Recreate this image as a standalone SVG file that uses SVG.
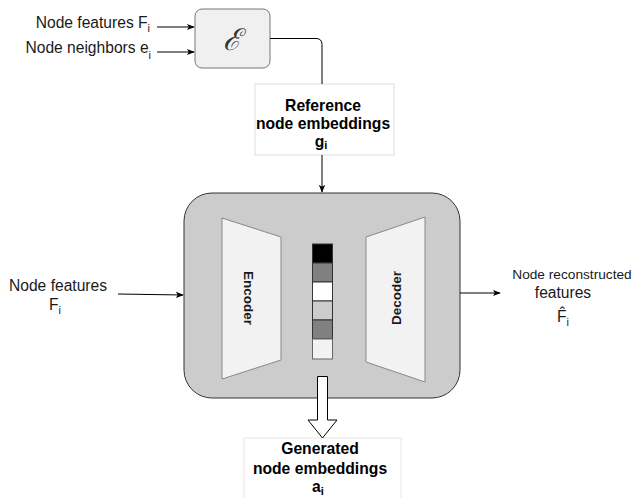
<svg xmlns="http://www.w3.org/2000/svg" width="632" height="498" viewBox="0 0 632 498">
  <style>
    .lbl { font-family: "Liberation Sans", Arial, sans-serif; fill: #1a1a1a; }
    .bold { font-weight: bold; fill: #000; }
    .edge { fill: none; stroke: #000; stroke-width: 1; }
    .sub { font-size: 70%; }
  </style>
  <defs>
    <marker id="arrow" viewBox="0 0 10 10" refX="9" refY="5" markerWidth="8" markerHeight="8" markerUnits="userSpaceOnUse" orient="auto">
      <path d="M0,1 L10,5 L0,9 L2.5,5 Z" fill="#000"/>
    </marker>
  </defs>
  <rect width="632" height="498" fill="#fff"/>

  <!-- input labels of the encoder block -->
  <g id="input-features-top">
    <text class="lbl" x="150" y="28" font-size="15.6" text-anchor="end">Node features F<tspan class="sub" dy="4">i</tspan></text>
  </g>
  <g id="input-neighbors">
    <text class="lbl" x="151" y="53" font-size="15.6" text-anchor="end">Node neighbors e<tspan class="sub" dy="6">i</tspan></text>
  </g>

  <!-- graph encoder block -->
  <g id="graph-encoder">
    <rect x="195" y="9" width="75" height="59" rx="7" fill="#f0f0f0" stroke="#777"/>
    <text x="232" y="50" font-family="DejaVu Serif, serif" font-style="italic" font-size="30" fill="#333" text-anchor="middle">ℰ</text>
  </g>

  <!-- reference embeddings -->
  <g id="reference-embeddings">
    <rect x="255" y="84" width="139" height="71" fill="#fff" stroke="#ddd"/>
    <text class="lbl bold" x="323" y="111" font-size="15.7" text-anchor="middle">Reference</text>
    <text class="lbl bold" x="323" y="129" font-size="15.7" text-anchor="middle">node embeddings</text>
    <text class="lbl bold" x="321" y="147" font-size="15.7" text-anchor="middle">g<tspan class="sub" dy="2">i</tspan></text>
  </g>

  <!-- autoencoder -->
  <g id="autoencoder">
    <rect x="184" y="193" width="276" height="205" rx="28" fill="#cccccc" stroke="#333"/>
  </g>
  <g id="encoder">
    <polygon points="222,218 281,237 281,360 222,379" fill="#f2f2f2" stroke="#888"/>
    <text class="lbl" transform="translate(244,298) rotate(90)" font-size="13.5" font-weight="bold" fill="#333" text-anchor="middle">Encoder</text>
  </g>
  <g id="decoder">
    <polygon points="366,237 425,217 425,382 366,362" fill="#f2f2f2" stroke="#888"/>
    <text class="lbl" transform="translate(401,298) rotate(-90)" font-size="13.5" font-weight="bold" fill="#333" text-anchor="middle">Decoder</text>
  </g>
  <g id="latent" stroke="#333" stroke-width="1">
    <rect x="312.5" y="244" width="20" height="19" fill="#000"/>
    <rect x="312.5" y="263" width="20" height="19" fill="#808080"/>
    <rect x="312.5" y="282" width="20" height="19" fill="#fff"/>
    <rect x="312.5" y="301" width="20" height="19" fill="#cccccc"/>
    <rect x="312.5" y="320" width="20" height="19" fill="#808080"/>
    <rect x="312.5" y="339" width="20" height="20" fill="#f2f2f2" stroke="#666"/>
  </g>

  <!-- side labels -->
  <g id="input-features">
    <text class="lbl" x="58" y="291" font-size="15.6" text-anchor="middle">Node features</text>
    <text class="lbl" x="55" y="310" font-size="15.6" text-anchor="middle">F<tspan class="sub" dy="4">i</tspan></text>
  </g>
  <g id="reconstructed-features">
    <text class="lbl" x="572" y="279" font-size="13.7" text-anchor="middle">Node reconstructed</text>
    <text class="lbl" x="563" y="298" font-size="15.6" text-anchor="middle">features</text>
    <text class="lbl" x="563" y="322" font-size="15.6" text-anchor="middle">F&#x302;<tspan class="sub" dy="4">i</tspan></text>
  </g>

  <!-- generated embeddings -->
  <g id="generated-embeddings">
    <rect x="244" y="438" width="157" height="62" fill="#fff" stroke="#e6e6e6"/>
    <text class="lbl bold" x="320" y="454" font-size="15.7" text-anchor="middle">Generated</text>
    <text class="lbl bold" x="320" y="474" font-size="15.7" text-anchor="middle">node embeddings</text>
    <text class="lbl bold" x="318" y="492" font-size="15.7" text-anchor="middle">a<tspan class="sub" dy="3">i</tspan></text>
  </g>

  <!-- connectors -->
  <g id="connectors">
    <path class="edge" d="M157,27 H194" marker-end="url(#arrow)"/>
    <path class="edge" d="M157,52 H194" marker-end="url(#arrow)"/>
    <path class="edge" d="M270,38.5 H316 Q322,38.5 322,44.5 V84"/>
    <path class="edge" d="M322,155 V192" marker-end="url(#arrow)"/>
    <path class="edge" d="M118,294 L183,295" marker-end="url(#arrow)"/>
    <path class="edge" d="M460,293 H500" marker-end="url(#arrow)"/>
    <path d="M317.5,376.5 H327.5 V420 H337 L322.5,438 L308,420 H317.5 Z" fill="#fff" stroke="#000"/>
  </g>
</svg>
